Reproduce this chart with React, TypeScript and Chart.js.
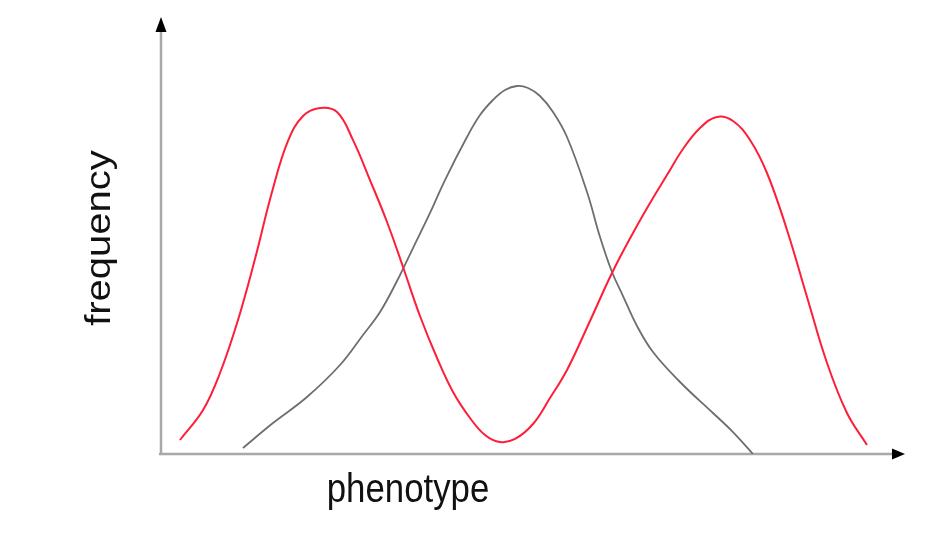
import React, { useEffect, useRef } from "react";
import { Chart, registerables } from "chart.js";

Chart.register(...registerables);

// phenotype position (0-100) and relative frequency (0-100)
const redX = [2.55, 5.65, 7.93, 10.35, 12.63, 14.92, 17.07, 19.09, 21.37, 23.66, 25.81, 28.09, 30.38, 32.53, 34.81, 37.1, 39.25, 41.53, 43.55, 45.56, 47.58, 50.0, 52.28, 54.57, 57.66, 60.62, 63.44, 65.73, 68.01, 70.16, 72.45, 74.73, 76.88, 79.17, 81.45, 84.14, 86.83, 89.52, 92.2, 94.89];
const redY = [3.19, 10.02, 18.45, 30.52, 44.42, 59.68, 71.3, 77.0, 78.82, 77.9, 71.5, 62.41, 52.85, 42.6, 31.44, 21.87, 14.12, 8.2, 4.33, 2.73, 3.42, 6.83, 12.76, 19.13, 30.3, 41.23, 50.34, 57.18, 63.55, 69.48, 74.26, 76.77, 75.85, 71.53, 64.01, 51.03, 35.76, 20.73, 9.34, 2.05];

const grayX = [11.02, 15.05, 19.62, 24.06, 27.15, 29.44, 31.72, 33.87, 36.16, 38.17, 41.13, 42.88, 44.62, 46.24, 47.85, 49.33, 50.94, 52.69, 54.57, 57.26, 59.01, 60.62, 62.1, 63.98, 66.13, 69.76, 74.19, 76.88, 79.57];
const grayY = [1.37, 7.06, 12.98, 20.27, 27.11, 32.35, 39.41, 46.92, 54.9, 62.41, 72.21, 77.22, 80.64, 82.92, 83.83, 83.37, 81.55, 77.9, 72.21, 59.68, 49.43, 41.46, 35.99, 29.16, 23.23, 16.4, 9.34, 5.01, 0];

const xLabel = "phenotype";
const yLabel = "frequency";

const toPoints = (xs: number[], ys: number[]) => xs.map((x, i) => ({ x, y: ys[i] }));

const axesPlugin = {
  id: "axesArrows",
  beforeDatasetsDraw(chart: any) {
    const { ctx, chartArea } = chart;
    const { left, right, top, bottom } = chartArea;
    ctx.save();
    ctx.strokeStyle = "#a8a8a8";
    ctx.lineWidth = 2.5;
    ctx.beginPath();
    ctx.moveTo(left, bottom);
    ctx.lineTo(left, top + 14);
    ctx.moveTo(left - 2, bottom);
    ctx.lineTo(right - 10, bottom);
    ctx.stroke();
    ctx.fillStyle = "#000";
    ctx.beginPath();
    ctx.moveTo(left, top + 2);
    ctx.lineTo(left - 5.5, top + 17);
    ctx.lineTo(left + 5.5, top + 17);
    ctx.closePath();
    ctx.fill();
    ctx.beginPath();
    ctx.moveTo(right, bottom);
    ctx.lineTo(right - 13, bottom - 5.5);
    ctx.lineTo(right - 13, bottom + 5.5);
    ctx.closePath();
    ctx.fill();
    ctx.restore();
  },
  afterDraw(chart: any) {
    const { ctx } = chart;
    ctx.save();
    ctx.fillStyle = "#111";
    ctx.font = '40px "Liberation Sans", Arial, Helvetica, sans-serif';
    ctx.textAlign = "center";
    ctx.textBaseline = "alphabetic";
    ctx.save();
    ctx.translate(408, 502);
    ctx.scale(0.87, 1);
    ctx.fillText(xLabel, 0, 0);
    ctx.restore();
    ctx.save();
    ctx.translate(110, 238);
    ctx.scale(0.87, 1);
    ctx.rotate(-Math.PI / 2);
    ctx.fillText(yLabel, 0, 0);
    ctx.restore();
    ctx.restore();
  },
};

export default function App() {
  const ref = useRef<HTMLCanvasElement | null>(null);
  useEffect(() => {
    document.body.style.margin = "0";
    if (!ref.current) return;
    const chart = new Chart(ref.current, {
      type: "line",
      data: {
        datasets: [
          {
            label: "parents",
            data: toPoints(redX, redY),
            borderColor: "rgb(255, 30, 55)",
            borderWidth: 2,
            pointRadius: 0,
            tension: 0.4,
            fill: false,
          },
          {
            label: "offspring",
            data: toPoints(grayX, grayY),
            borderColor: "#6e6e6e",
            borderWidth: 1.8,
            pointRadius: 0,
            tension: 0.4,
            fill: false,
          },
        ],
      },
      options: {
        animation: false,
        responsive: false,
        events: [],
        layout: { padding: { left: 161, right: 28, top: 15, bottom: 105 } },
        plugins: { legend: { display: false }, tooltip: { enabled: false }, title: { display: false } },
        scales: {
          x: { type: "linear", min: 0, max: 100, display: false },
          y: { type: "linear", min: 0, max: 100, display: false },
        },
      },
      plugins: [axesPlugin],
    });
    return () => chart.destroy();
  }, []);
  return (
    <div style={{ width: 933, height: 559, background: "#fff" }}>
      <canvas ref={ref} width={933} height={559} style={{ display: "block" }} />
    </div>
  );
}
